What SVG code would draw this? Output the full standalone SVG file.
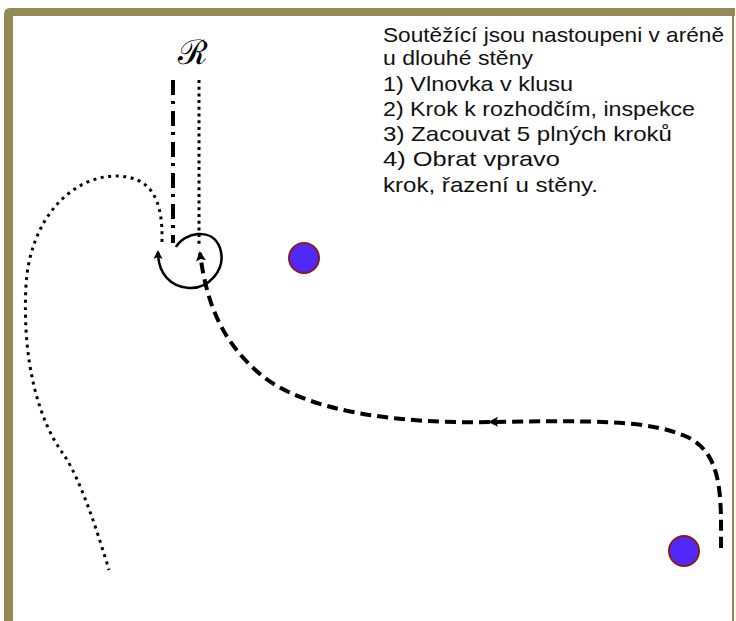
<svg xmlns="http://www.w3.org/2000/svg" width="736" height="621" viewBox="0 0 736 621">
<style>
.txt{font-family:"Liberation Sans","DejaVu Sans",sans-serif;font-size:21px;fill:#111;}
.frame{fill:#948a54;}
.cone{fill:#5028f8;stroke:#8b1a1a;stroke-width:2;}
.dash{fill:none;stroke:#000;stroke-width:4;stroke-dasharray:11 6;}
.dot{fill:none;stroke:#000;stroke-width:3;stroke-dasharray:3 4.5;}
</style>
<defs>
<marker id="arr" markerWidth="10" markerHeight="10" refX="8" refY="5" orient="auto" markerUnits="userSpaceOnUse">
<path d="M0,0 L10,5 L0,10 L2,5 Z" fill="#000"/>
</marker>
<marker id="arrs" markerWidth="9" markerHeight="9" refX="7" refY="4.5" orient="auto" markerUnits="userSpaceOnUse">
<path d="M0,0 L9,4.5 L0,9 L2,4.5 Z" fill="#000"/>
</marker>
</defs>
<rect width="736" height="621" fill="#fff"/>
<g id="frame">
<path class="frame" d="M4,621 L4,14 Q4,8 10,8 L735,8 L735,16 L13,16 L13,621 Z"/>
<rect class="frame" x="732" y="8" width="2" height="613"/>
</g>
<g id="notes">
<text class="txt" x="383" y="42" textLength="341" lengthAdjust="spacingAndGlyphs">Soutěžící jsou nastoupeni v aréně</text>
<text class="txt" x="383" y="65" textLength="150" lengthAdjust="spacingAndGlyphs">u dlouhé stěny</text>
<text class="txt" x="383" y="91" textLength="190" lengthAdjust="spacingAndGlyphs">1) Vlnovka v klusu</text>
<text class="txt" x="383" y="116" textLength="312" lengthAdjust="spacingAndGlyphs">2) Krok k rozhodčím, inspekce</text>
<text class="txt" x="383" y="141" textLength="289" lengthAdjust="spacingAndGlyphs">3) Zacouvat 5 plných kroků</text>
<text class="txt" x="383" y="166" textLength="177" lengthAdjust="spacingAndGlyphs">4) Obrat vpravo</text>
<text class="txt" x="383" y="192" textLength="215" lengthAdjust="spacingAndGlyphs">krok, řazení u stěny.</text>
</g>
<g id="judge">
<text x="193" y="64" text-anchor="middle" font-family="DejaVu Serif,serif" font-size="34" fill="#000">ℛ</text>
</g>
<g id="cone1"><circle class="cone" cx="304" cy="258" r="15"/></g>
<g id="cone2"><circle class="cone" cx="684" cy="551" r="15"/></g>
<g id="connectors">
<line x1="173" y1="80" x2="173" y2="243" stroke="#000" stroke-width="4" stroke-dasharray="15 6 3 7"/>
<line x1="199" y1="80" x2="199" y2="245" stroke="#000" stroke-width="3" stroke-dasharray="3 3.7"/>
<path d="M176,247 C184,233 212,226 220,248 C227,270 208,289 189,288 C171,287 158,274 158,252" fill="none" stroke="#000" stroke-width="2.5" marker-end="url(#arrs)"/>
<path class="dash" d="M721,548 C721,500 724,452 685,436 C650,421 600,420 490,422" marker-end="url(#arr)"/>
<path class="dash" d="M490,422 C400,424 305,412 260,374 C220,340 206,300 200,253" marker-end="url(#arr)"/>
<path class="dot" d="M162,242 C163,200 152,176 115,176 C70,177 30,220 26,285 C22,360 38,420 64,455 C82,482 100,540 109,570"/>
</g>
</svg>
